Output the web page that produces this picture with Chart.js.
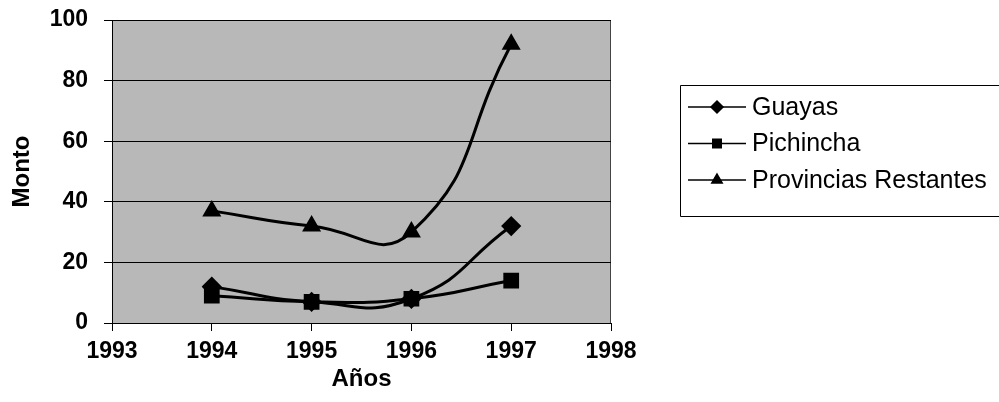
<!DOCTYPE html>
<html>
<head>
<meta charset="utf-8">
<script src="https://cdn.jsdelivr.net/npm/chart.js@4.4.1/dist/chart.umd.min.js"></script>
<style>
    html, body { margin: 0; padding: 0; background: #fff; overflow: hidden; }
    #wrap { width: 999px; height: 402px; }
</style>
</head>
<body>
<div id="wrap"><canvas id="chart" width="999" height="402"></canvas></div>
<script>
const years = [1994, 1995, 1996, 1997];
const guayas = [12, 7, 8, 32];
const pichincha = [9, 7, 8, 14];
const provincias = [37, 32, 30, 92];
const seriesNames = ['Guayas', 'Pichincha', 'Provincias Restantes'];
const yTicks = [0, 20, 40, 60, 80, 100];

const toPoints = (values) => values.map((v, i) => ({ x: years[i], y: v }));

// grey plot area + frame, drawn under the lines
const plotBackground = {
    id: 'plotBackground',
    beforeDraw(chart) {
        const { ctx, chartArea: a } = chart;
        ctx.save();
        ctx.fillStyle = '#b8b8b8';
        ctx.fillRect(a.left, a.top, a.right - a.left, a.bottom - a.top);
        ctx.strokeStyle = '#444';
        ctx.lineWidth = 1;
        ctx.beginPath();
        ctx.moveTo(a.right - 0.5, a.top);
        ctx.lineTo(a.right - 0.5, a.bottom);
        ctx.stroke();
        ctx.restore();
    }
};

// excel style legend: line through marker, boxed, running off the right edge
const boxLegend = {
    id: 'boxLegend',
    afterDraw(chart) {
        const { ctx } = chart;
        ctx.save();
        ctx.strokeStyle = '#000';
        ctx.lineWidth = 1;
        ctx.beginPath();
        ctx.moveTo(999, 85.5);
        ctx.lineTo(680.5, 85.5);
        ctx.lineTo(680.5, 216.5);
        ctx.lineTo(999, 216.5);
        ctx.stroke();
        ctx.font = '25px "Liberation Sans", Arial, sans-serif';
        ctx.textBaseline = 'middle';
        ctx.fillStyle = '#000';
        chart.data.datasets.forEach((ds, i) => {
            const y = 107 + i * 36.5;
            ctx.beginPath();
            ctx.lineWidth = 1.5;
            ctx.moveTo(688, y);
            ctx.lineTo(746, y);
            ctx.stroke();
            Chart.helpers.drawPoint(ctx, {
                pointStyle: ds.pointStyle,
                radius: ds.legendRadius,
                rotation: 0,
                borderWidth: 1
            }, 717, y);
            ctx.fill();
            ctx.fillText(ds.label, 752, y + 1);
        });
        ctx.restore();
    }
};

const lineStyle = {
    borderColor: '#000',
    backgroundColor: '#000',
    pointBackgroundColor: '#000',
    pointBorderColor: '#000',
    borderWidth: 3,
    tension: 0.5,
    fill: false
};

const font = (size) => ({ family: '"Liberation Sans", Arial, sans-serif', size, weight: 'bold' });

new Chart(document.getElementById('chart'), {
    type: 'line',
    data: {
        datasets: [
            { ...lineStyle, label: seriesNames[0], data: toPoints(guayas), pointStyle: 'rectRot', pointRadius: 8, legendRadius: 6 },
            { ...lineStyle, label: seriesNames[1], data: toPoints(pichincha), pointStyle: 'rect', pointRadius: 9, legendRadius: 6 },
            { ...lineStyle, label: seriesNames[2], data: toPoints(provincias), pointStyle: 'triangle', pointRadius: 8, legendRadius: 6 }
        ]
    },
    options: {
        responsive: false,
        animation: false,
        devicePixelRatio: 1,
        layout: { padding: { top: 20, right: 388, bottom: 0, left: 0 } },
        plugins: { legend: { display: false }, tooltip: { enabled: false } },
        scales: {
            x: {
                type: 'linear',
                min: 1993,
                max: 1998,
                afterFit: (scale) => { scale.height = 79; },
                ticks: {
                    stepSize: 1,
                    color: '#000',
                    padding: 7,
                    callback: (v) => String(v),
                    font: font(23)
                },
                grid: { drawOnChartArea: false, drawTicks: true, tickLength: 8, tickColor: '#000' },
                border: { color: '#000', width: 1 },
                title: {
                    display: true,
                    text: 'Años',
                    color: '#000',
                    padding: { top: 0, bottom: 8 },
                    font: font(24)
                }
            },
            y: {
                min: 0,
                max: 100,
                afterFit: (scale) => {
                    scale.width = 112;
                    scale.paddingTop = 0;
                    scale.paddingBottom = 0;
                },
                afterBuildTicks: (scale) => { scale.ticks = yTicks.map((v) => ({ value: v })); },
                ticks: {
                    color: '#000',
                    padding: 16,
                    font: font(23)
                },
                grid: { color: '#000', lineWidth: 1, tickLength: 8, tickColor: '#000' },
                border: { color: '#000', width: 1 },
                title: {
                    display: true,
                    text: 'Monto',
                    color: '#000',
                    padding: { top: 8, bottom: 0 },
                    font: font(24)
                }
            }
        }
    },
    plugins: [plotBackground, boxLegend]
});
</script>
</body>
</html>
